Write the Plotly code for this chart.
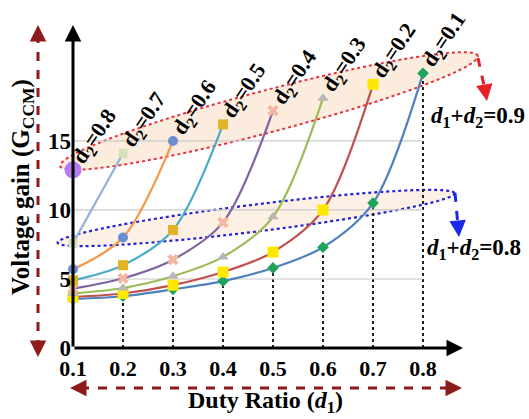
import numpy as np
import plotly.graph_objects as go

# ---------------- data ----------------
d1_values = [0.1, 0.2, 0.3, 0.4, 0.5, 0.6, 0.7, 0.8]
d2_labels = ["0.1", "0.2", "0.3", "0.4", "0.5", "0.6", "0.7", "0.8"]
g_d2_01 = [3.55, 3.75, 4.25, 4.85, 5.8, 7.3, 10.5, 19.9]
g_d2_02 = [3.7, 3.95, 4.55, 5.5, 6.95, 10.0, 19.1]
g_d2_03 = [3.95, 4.35, 5.2, 6.6, 9.5, 18.1]
g_d2_04 = [4.3, 5.05, 6.4, 9.1, 17.2]
g_d2_05 = [4.9, 6.0, 8.55, 16.2]
g_d2_06 = [5.7, 8.0, 15.0]
g_d2_07 = [7.6, 14.1]
g_d2_08 = [12.9]
x_ticks = [0.1, 0.2, 0.3, 0.4, 0.5, 0.6, 0.7, 0.8]
y_ticks = [0, 5, 10, 15]

series = [g_d2_01, g_d2_02, g_d2_03, g_d2_04, g_d2_05, g_d2_06, g_d2_07, g_d2_08]

# ---------------- styles ----------------
line_colors = ["#4F81BD", "#C0504D", "#9BBB59", "#8064A2", "#4BACC6", "#F79646", "#95B3D7", "#B47CF0"]
marker_colors = ["#1FA35A", "#FFE800", "#B8B8B8", "#F4B6A0", "#E2B227", "#6A8ED0", "#D5E2B8", "#B47CF0"]
marker_symbols = ["diamond", "square", "triangle-up", "x", "square", "circle", "square", "circle"]
marker_sizes = [9, 11, 10, 10, 10, 10, 9, 17]

SERIF = "Liberation Serif"
W, H = 529, 419
ML, MR, MT, MB = 73, 66, 25, 71
PW, PH = W - ML - MR, H - MT - MB


def PX(px):
    return (px - ML) / PW


def PY(py):
    return (H - MB - py) / PH


fig = go.Figure()

# vertical dotted guide lines (from d2 = 0.1 curve)
for xv, yv in zip(d1_values[1:], g_d2_01[1:]):
    fig.add_shape(type="line", xref="x", yref="y", x0=xv, x1=xv, y0=0, y1=yv,
                  line=dict(color="#222222", width=2, dash="dot"), layer="below")

# gridlines
for yv in y_ticks[1:]:
    fig.add_shape(type="line", xref="x", yref="y", x0=d1_values[0], x1=d1_values[-1], y0=yv, y1=yv,
                  line=dict(color="#C8C8C8", width=1.2), layer="below")


def ellipse_path(cx, cy, a, b, ang_deg, n=90):
    t = np.linspace(0, 2 * np.pi, n)
    ang = np.radians(ang_deg)
    px = cx + a * np.cos(t) * np.cos(ang) - b * np.sin(t) * np.sin(ang)
    py = cy - (a * np.cos(t) * np.sin(ang) + b * np.sin(t) * np.cos(ang))
    pts = [f"{PX(x):.4f},{PY(y):.4f}" for x, y in zip(px, py)]
    return "M " + " L ".join(pts) + " Z"


# ellipses
fig.add_shape(type="path", xref="paper", yref="paper", path=ellipse_path(269, 111, 216, 21, 14.8),
              line=dict(color="#E8303A", width=2, dash="dot"), fillcolor="rgba(248,205,165,0.38)", layer="below")
fig.add_shape(type="path", xref="paper", yref="paper", path=ellipse_path(256, 218, 200, 13.5, 7.1),
              line=dict(color="#2020D8", width=2.2, dash="dot"), fillcolor="rgba(248,205,165,0.28)", layer="below")

# curves
for i, vals in enumerate(series):
    xs = d1_values[:len(vals)]
    fig.add_trace(go.Scatter(
        x=xs, y=vals, mode="lines+markers" if len(vals) > 1 else "markers",
        line=dict(color=line_colors[i], width=2.2, shape="spline", smoothing=0.9),
        marker=dict(color=marker_colors[i], symbol=marker_symbols[i], size=marker_sizes[i],
                    line=dict(width=0)),
        cliponaxis=False, showlegend=False, hoverinfo="skip"))

annotations = []
# d2 labels at curve ends
for i, vals in enumerate(series):
    annotations.append(dict(
        x=d1_values[len(vals) - 1], y=vals[-1], xref="x", yref="y",
        xanchor="center", yanchor="middle",
        text=f"<b>d<sub>2</sub>=" + d2_labels[i] + "</b>", showarrow=False,
        textangle=-56, xshift=22, yshift=33,
        font=dict(family=SERIF, size=22, color="black")))

# axes arrows (black)
annotations.append(dict(x=0, y=1, xref="paper", yref="paper", ax=0, ay=PH, axref="pixel", ayref="pixel",
                        showarrow=True, arrowhead=2, arrowsize=1.1, arrowwidth=3, arrowcolor="black", text=""))
annotations.append(dict(x=1, y=0, xref="paper", yref="paper", ax=-PW, ay=0,
                        showarrow=True, arrowhead=2, arrowsize=1.1, arrowwidth=3, arrowcolor="black", text=""))

# dark red dashed outer arrows
DR = "#8E1B1B"
fig.add_shape(type="line", xref="paper", yref="paper", x0=PX(38), x1=PX(38), y0=PY(34), y1=PY(348),
              line=dict(color=DR, width=3, dash="dash"))
fig.add_shape(type="line", xref="paper", yref="paper", x0=PX(80), x1=PX(452), y0=PY(388), y1=PY(388),
              line=dict(color=DR, width=3, dash="dash"))
for (tx, ty, ax, ay) in [(38, 25, 0, 12), (38, 357, 0, -12), (70, 388, 12, 0), (462, 388, -12, 0)]:
    annotations.append(dict(x=PX(tx), y=PY(ty), xref="paper", yref="paper", ax=ax, ay=ay, text="",
                            showarrow=True, arrowhead=2, arrowsize=1.1, arrowwidth=3, arrowcolor=DR))

# red / blue dashed arrows from the ellipses
fig.add_shape(type="line", xref="paper", yref="paper", x0=PX(478), x1=PX(485), y0=PY(58), y1=PY(90),
              line=dict(color="#E8202A", width=3, dash="dash"))
annotations.append(dict(x=PX(487), y=PY(101), xref="paper", yref="paper", ax=-2, ay=-12, text="",
                        showarrow=True, arrowhead=2, arrowsize=1.1, arrowwidth=3, arrowcolor="#E8202A"))
fig.add_shape(type="line", xref="paper", yref="paper", x0=PX(455), x1=PX(458), y0=PY(193), y1=PY(226),
              line=dict(color="#1A2AE8", width=3, dash="dash"))
annotations.append(dict(x=PX(459), y=PY(237), xref="paper", yref="paper", ax=-1, ay=-12, text="",
                        showarrow=True, arrowhead=2, arrowsize=1.1, arrowwidth=3, arrowcolor="#1A2AE8"))

# sum labels
annotations.append(dict(x=PX(478), y=PY(117), xref="paper", yref="paper", showarrow=False,
                        xanchor="center", yanchor="middle",
                        text="<b><i>d</i><sub>1</sub>+<i>d</i><sub>2</sub>=0.9</b>",
                        font=dict(family=SERIF, size=23, color="black")))
annotations.append(dict(x=PX(474), y=PY(249), xref="paper", yref="paper", showarrow=False,
                        xanchor="center", yanchor="middle",
                        text="<b><i>d</i><sub>1</sub>+<i>d</i><sub>2</sub>=0.8</b>",
                        font=dict(family=SERIF, size=23, color="black")))

# axis titles
annotations.append(dict(x=PX(22), y=PY(187), xref="paper", yref="paper", showarrow=False, textangle=-90,
                        xanchor="center", yanchor="middle",
                        text="<b>Voltage gain (G<sub>CCM</sub>)</b>",
                        font=dict(family=SERIF, size=25, color="black")))
annotations.append(dict(x=PX(265), y=PY(402), xref="paper", yref="paper", showarrow=False,
                        xanchor="center", yanchor="middle",
                        text="<b>Duty Ratio (<i>d</i><sub>1</sub>)</b>",
                        font=dict(family=SERIF, size=24, color="black")))

fig.update_layout(
    width=W, height=H,
    margin=dict(l=ML, r=MR, t=MT, b=MB),
    paper_bgcolor="white", plot_bgcolor="white",
    showlegend=False,
    annotations=annotations,
    xaxis=dict(range=[0.1, 0.88], tickvals=x_ticks, ticktext=[f"<b>{v}</b>" for v in x_ticks],
               showgrid=False, zeroline=False, showline=False, ticks="", ticklabelstandoff=5,
               tickfont=dict(family=SERIF, size=22, color="black")),
    yaxis=dict(range=[0, 23.4], tickvals=y_ticks, ticktext=[f"<b>{v}</b>" for v in y_ticks],
               showgrid=False, zeroline=False, showline=False, ticks="", ticklabelstandoff=1,
               tickfont=dict(family=SERIF, size=23, color="black")),
)

fig.write_html("out.html")
